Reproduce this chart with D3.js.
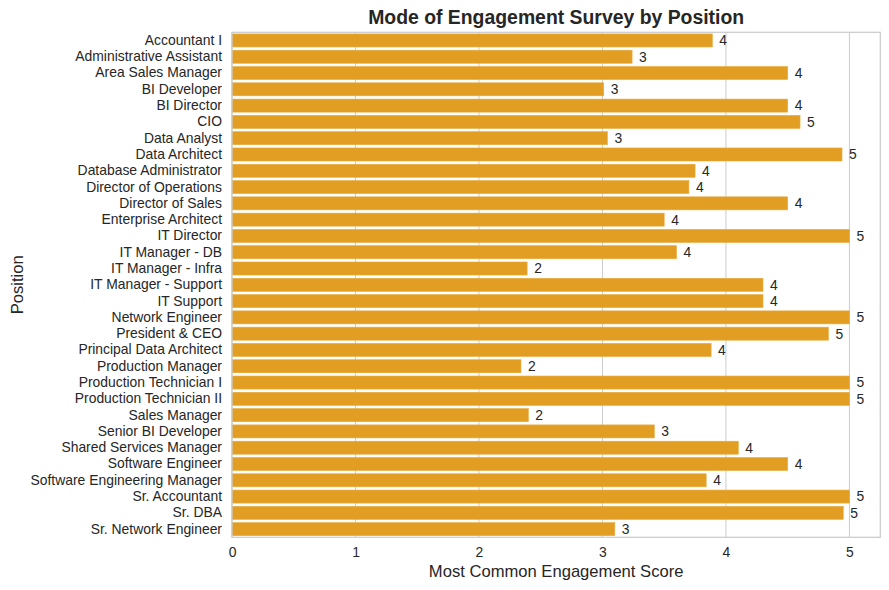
<!DOCTYPE html>
<html>
<head>
<meta charset="utf-8">
<script src="https://cdn.jsdelivr.net/npm/d3@7"></script>
<style>
  html, body { margin: 0; padding: 0; background: #fff; }
  svg { display: block; font-family: "Liberation Sans", Arial, sans-serif; }
</style>
</head>
<body>
<svg id="chart" width="889" height="590"></svg>
<script>
const positions = [
  "Accountant I", "Administrative Assistant", "Area Sales Manager", "BI Developer",
  "BI Director", "CIO", "Data Analyst", "Data Architect", "Database Administrator",
  "Director of Operations", "Director of Sales", "Enterprise Architect", "IT Director",
  "IT Manager - DB", "IT Manager - Infra", "IT Manager - Support", "IT Support",
  "Network Engineer", "President & CEO", "Principal Data Architect", "Production Manager",
  "Production Technician I", "Production Technician II", "Sales Manager",
  "Senior BI Developer", "Shared Services Manager", "Software Engineer",
  "Software Engineering Manager", "Sr. Accountant", "Sr. DBA", "Sr. Network Engineer"
];
const barValues = [
  3.89, 3.24, 4.50, 3.01, 4.50, 4.60, 3.04, 4.94, 3.75, 3.70, 4.50, 3.50, 5.00,
  3.60, 2.39, 4.30, 4.30, 5.00, 4.83, 3.88, 2.34, 5.00, 5.00, 2.40, 3.42, 4.10,
  4.50, 3.84, 5.00, 4.95, 3.10
];
const modeLabels = [
  4, 3, 4, 3, 4, 5, 3, 5, 4, 4, 4, 4, 5, 4, 2, 4, 4, 5, 5, 4, 2, 5, 5, 2, 3, 4,
  4, 4, 5, 5, 3
];
const xTicks = [0, 1, 2, 3, 4, 5];
const titleText = "Mode of Engagement Survey by Position";
const xLabelText = "Most Common Engagement Score";
const yLabelText = "Position";

const margin = { left: 232, top: 32.3, right: 889 - 880.3, bottom: 590 - 537.3 };
const W = 889, H = 590;
const iw = W - margin.left - margin.right;
const ih = H - margin.top - margin.bottom;

const svg = d3.select("#chart");
const g = svg.append("g").attr("transform", `translate(${margin.left},${margin.top})`);

const x = d3.scaleLinear().domain([0, 5.25]).range([0, iw]);
const y = d3.scaleBand().domain(positions).range([0, ih]).paddingInner(0.2).paddingOuter(0.1);

const textColor = "#262626";
const gridColor = "#cccccc";
const barColor = "#E29E22";
const fs = "13.9px";

// gridlines
g.append("g").selectAll("line").data(xTicks).join("line")
  .attr("x1", d => x(d)).attr("x2", d => x(d))
  .attr("y1", 0).attr("y2", ih)
  .attr("stroke", gridColor).attr("stroke-width", 1);

// bars
const data = positions.map((p, i) => ({ p, v: barValues[i], m: modeLabels[i] }));
g.append("g").selectAll("rect").data(data).join("rect")
  .attr("x", x(0))
  .attr("y", d => y(d.p))
  .attr("width", d => x(d.v) - x(0))
  .attr("height", y.bandwidth())
  .attr("fill", barColor)
  .attr("stroke", "#e8ab3c")
  .attr("stroke-width", 0.6);

// value labels
g.append("g").selectAll("text").data(data).join("text")
  .attr("x", d => x(d.v) + 7)
  .attr("y", d => y(d.p) + y.bandwidth() / 2)
  .attr("dy", "0.35em")
  .attr("font-size", fs)
  .attr("fill", textColor)
  .text(d => d.m);

// spines
g.append("rect")
  .attr("x", 0).attr("y", 0).attr("width", iw).attr("height", ih)
  .attr("fill", "none").attr("stroke", gridColor).attr("stroke-width", 1.25);

// x axis
const xAxis = d3.axisBottom(x).tickValues(xTicks).tickSize(0).tickPadding(10).tickFormat(d3.format("d"));
const xg = g.append("g").attr("transform", `translate(0,${ih})`).call(xAxis);
xg.select(".domain").remove();
xg.selectAll("text").attr("font-size", fs).attr("fill", textColor).attr("font-family", "Liberation Sans, Arial, sans-serif");

// y axis
const yAxis = d3.axisLeft(y).tickSize(0).tickPadding(10);
const yg = g.append("g").call(yAxis);
yg.select(".domain").remove();
yg.selectAll("text").attr("font-size", fs).attr("fill", textColor).attr("font-family", "Liberation Sans, Arial, sans-serif");

// axis labels
svg.append("text")
  .attr("x", margin.left + iw / 2).attr("y", 577)
  .attr("text-anchor", "middle")
  .attr("font-size", "16.6px").attr("fill", textColor)
  .text(xLabelText);

svg.append("text")
  .attr("transform", `translate(23,${margin.top + ih / 2}) rotate(-90)`)
  .attr("text-anchor", "middle")
  .attr("font-size", "16.6px").attr("fill", textColor)
  .text(yLabelText);

// title
svg.append("text")
  .attr("x", margin.left + iw / 2).attr("y", 24)
  .attr("text-anchor", "middle")
  .attr("font-size", "19.4px").attr("font-weight", "bold").attr("fill", textColor)
  .text(titleText);
</script>
</body>
</html>
